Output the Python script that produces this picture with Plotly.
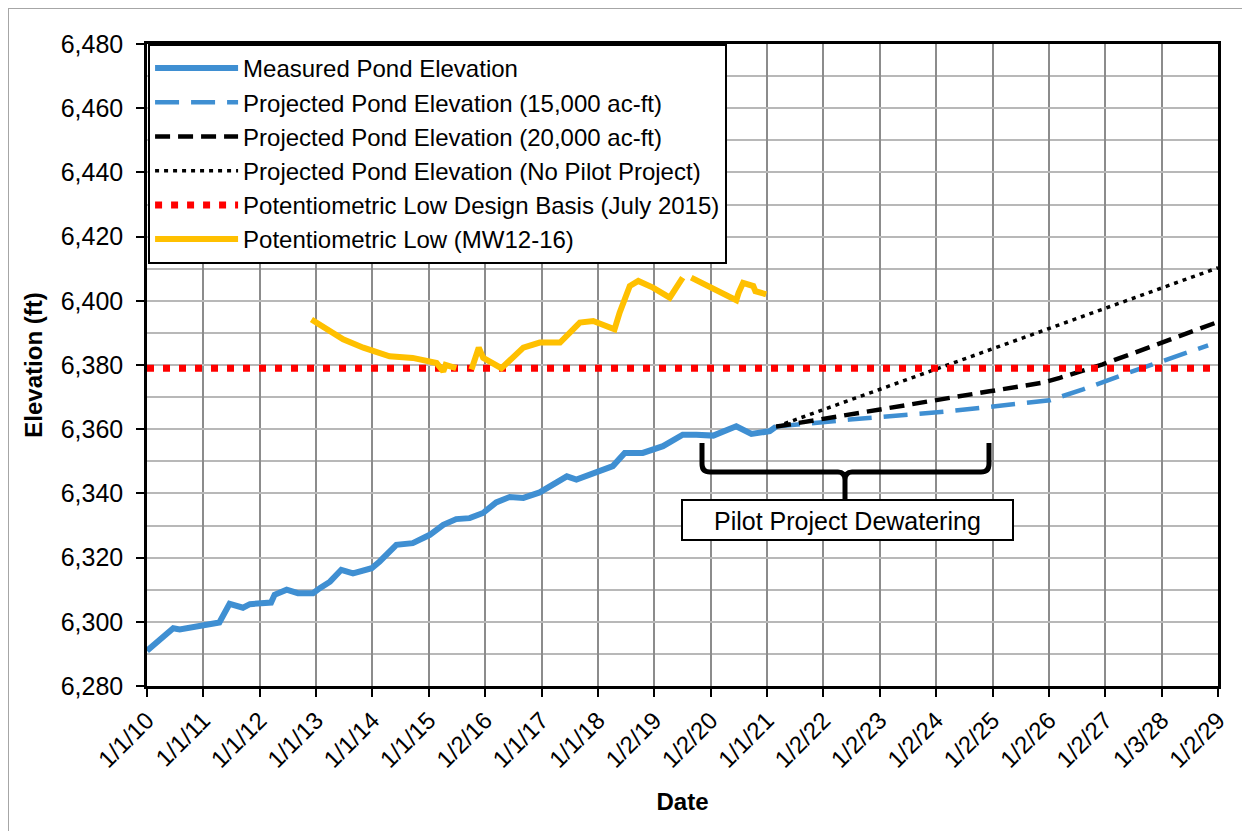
import plotly.graph_objects as go

# Measured pond elevation (ft)
measured_dates = [
    "2010-01-01", "2010-03-15", "2010-06-20", "2010-08-01", "2011-01-01",
    "2011-04-15", "2011-06-20", "2011-09-15", "2011-10-30", "2012-03-15",
    "2012-04-07", "2012-06-24", "2012-09-05", "2012-12-12", "2013-01-25",
    "2013-04-01", "2013-06-13", "2013-08-28", "2013-12-27", "2014-02-17",
    "2014-06-05", "2014-09-19", "2015-01-08", "2015-04-05", "2015-06-28",
    "2015-09-23", "2015-12-19", "2016-03-13", "2016-06-09", "2016-09-05",
    "2016-12-20", "2017-06-14", "2017-08-15", "2017-12-24", "2018-04-08",
    "2018-06-24", "2018-10-19", "2019-02-27", "2019-07-05", "2019-10-01",
    "2020-01-19", "2020-06-16", "2020-09-22", "2021-01-19", "2021-03-01",
]
measured_elev = [
    6291.0, 6294.0, 6298.0, 6297.6, 6299.0,
    6299.8, 6305.6, 6304.4, 6305.5, 6306.0,
    6308.4, 6310.0, 6308.9, 6308.9, 6310.5,
    6312.5, 6316.2, 6315.1, 6316.7, 6318.8,
    6324.0, 6324.5, 6327.1, 6330.2, 6332.0,
    6332.3, 6333.9, 6337.2, 6338.9, 6338.6,
    6340.3, 6345.3, 6344.3, 6346.4, 6348.5,
    6352.6, 6352.6, 6354.7, 6358.3, 6358.3,
    6358.0, 6360.9, 6358.5, 6359.4, 6360.8,
]

# Projections
proj15_dates = ["2021-03-01", "2022-06-20", "2024-03-27", "2026-01-08",
                "2026-08-11", "2027-07-02", "2028-10-30"]
proj15_elev = [6360.8, 6363.0, 6365.6, 6369.0, 6372.4, 6378.1, 6386.1]

proj20_dates = ["2021-03-01", "2022-12-08", "2024-12-13", "2025-11-25",
                "2026-03-14", "2026-12-17", "2029-01-01"]
proj20_elev = [6360.8, 6366.1, 6371.8, 6374.5, 6376.0, 6380.2, 6393.4]

nopilot_dates = ["2021-03-01", "2025-01-01", "2029-01-02"]
nopilot_elev = [6360.8, 6385.0, 6410.3]

# Design basis (July 2015)
design_dates = ["2010-01-01", "2029-01-02"]
design_elev = [6379.0, 6379.0]

# Potentiometric low MW12-16 (None = data gap)
mw_dates = [
    "2012-12-02", "2013-06-25", "2013-11-03", "2014-04-22", "2014-09-19",
    "2015-02-21", "2015-04-05", "2015-04-20", "2015-06-28", "2015-08-01",
    "2015-10-05", "2015-11-21", "2015-12-20", "2016-04-16", "2016-09-05",
    "2016-12-20", "2017-05-01", "2017-09-06", "2017-12-02", "2018-04-19",
    "2018-05-22", "2018-07-27", "2018-09-20", "2018-12-24", "2019-04-12",
    "2019-07-05", "2019-08-01", "2019-08-29", "2020-04-13", "2020-06-16",
    "2020-07-01", "2020-07-30", "2020-10-04", "2020-10-18", "2020-12-27",
]
mw_elev = [
    6394.2, 6388.0, 6385.4, 6382.7, 6382.2,
    6380.6, 6378.0, 6380.0, 6379.0, None,
    6378.6, 6385.4, 6382.2, 6379.0, 6385.4,
    6387.0, 6387.0, 6393.2, 6393.7, 6391.1,
    6396.3, 6404.6, 6406.2, 6404.1, 6401.0,
    6407.2, None, 6407.2, 6401.5, 6400.2,
    6402.5, 6405.6, 6404.6, 6403.0, 6402.0,
]

tick_dates = [
    "2010-01-01", "2011-01-01", "2012-01-01", "2013-01-01", "2014-01-01",
    "2015-01-01", "2016-01-02", "2017-01-01", "2018-01-01", "2019-01-02",
    "2020-01-02", "2021-01-01", "2022-01-02", "2023-01-02", "2024-01-02",
    "2025-01-02", "2026-01-02", "2027-01-02", "2028-01-03", "2029-01-02",
]
tick_labels = [
    "1/1/10", "1/1/11", "1/1/12", "1/1/13", "1/1/14", "1/1/15", "1/2/16",
    "1/1/17", "1/1/18", "1/2/19", "1/2/20", "1/1/21", "1/2/22", "1/2/23",
    "1/2/24", "1/2/25", "1/2/26", "1/2/27", "1/3/28", "1/2/29",
]
y_ticks = list(range(6280, 6481, 20))

FONT = "Liberation Sans, Arial, sans-serif"
# page body has an 8px margin, so the figure is shifted by that much
OFF = 8
W, H = 1250 - OFF, 831 - OFF
PL, PR, PT, PB = 147, 1218, 44, 686   # plot area in page pixels
L, T = PL - OFF, PT - OFF
R, B = W - (PR - OFF), H - (PB - OFF)


def px(x):
    return (x - PL) / (PR - PL)


def py(y):
    return (PB - y) / (PB - PT)


def path_px(cmds):
    # cmds: list of (letter, [x, y, x, y ...]) in page pixel coords
    out = []
    for c, pts in cmds:
        coords = []
        for i in range(0, len(pts), 2):
            coords.append(f"{px(pts[i]):.5f},{py(pts[i + 1]):.5f}")
        out.append(c + " " + " ".join(coords))
    return " ".join(out)


fig = go.Figure()
fig.add_trace(go.Scatter(
    x=measured_dates, y=measured_elev, mode="lines",
    name="Measured Pond Elevation",
    line=dict(color="#3F8FD2", width=6),
))
fig.add_trace(go.Scatter(
    x=proj15_dates, y=proj15_elev, mode="lines",
    name="Projected Pond Elevation (15,000 ac-ft)",
    line=dict(color="#3F8FD2", width=4.5, dash="24px,12px"),
))
fig.add_trace(go.Scatter(
    x=proj20_dates, y=proj20_elev, mode="lines",
    name="Projected Pond Elevation (20,000 ac-ft)",
    line=dict(color="black", width=4.5, dash="15px,8px"),
))
fig.add_trace(go.Scatter(
    x=nopilot_dates, y=nopilot_elev, mode="lines",
    name="Projected Pond Elevation (No Pilot Project)",
    line=dict(color="black", width=3.5, dash="4px,5px"),
))
fig.add_trace(go.Scatter(
    x=design_dates, y=design_elev, mode="lines",
    name="Potentiometric Low Design Basis (July 2015)",
    line=dict(color="#FF0000", width=7, dash="7px,9px"),
))
fig.add_trace(go.Scatter(
    x=mw_dates, y=mw_elev, mode="lines",
    name="Potentiometric Low (MW12-16)",
    line=dict(color="#FFC000", width=6),
    connectgaps=False,
))

# brace + label box
brace = path_px([
    ("M", [702, 443]), ("L", [702, 464]), ("Q", [702, 472, 710, 472]),
    ("L", [838, 472]), ("Q", [845, 472, 845, 480]), ("L", [845, 500]),
    ("M", [845, 480]), ("Q", [845, 472, 852, 472]), ("L", [981, 472]),
    ("Q", [989, 472, 989, 464]), ("L", [989, 443]),
])
fig.add_shape(type="path", path=brace, xref="paper", yref="paper",
              line=dict(color="black", width=5))
fig.add_shape(type="rect", xref="paper", yref="paper",
              x0=px(682), x1=px(1013), y0=py(500), y1=py(540),
              fillcolor="white", line=dict(color="black", width=2))
fig.add_annotation(
    text="Pilot Project Dewatering", xref="paper", yref="paper",
    x=px(847.5), y=py(521), xanchor="center", yanchor="middle",
    showarrow=False, font=dict(family=FONT, size=25, color="black"),
)
# outer chart border
fig.add_shape(type="rect", xref="paper", yref="paper",
              x0=px(8), x1=px(1270), y0=py(8), y1=py(850),
              line=dict(color="#A6A6A6", width=2), layer="below")

fig.update_layout(
    width=W, height=H,
    margin=dict(l=L, r=R, t=T, b=B, autoexpand=False),
    paper_bgcolor="white", plot_bgcolor="white",
    font=dict(family=FONT, size=24, color="black"),
    showlegend=True,
    legend=dict(
        x=0.001, y=1, xanchor="left", yanchor="top",
        bgcolor="white", bordercolor="black", borderwidth=2,
        font=dict(family=FONT, size=24, color="black"),
        itemwidth=83, tracegroupgap=0,
    ),
    xaxis=dict(
        type="date", range=["2010-01-01", "2029-01-02"],
        tickmode="array", tickvals=tick_dates, ticktext=tick_labels,
        tickangle=-45, tickfont=dict(size=24),
        showgrid=True, gridcolor="#8C8C8C", gridwidth=1.5,
        showline=True, linecolor="black", linewidth=2.5, mirror=True,
        ticks="outside", ticklen=8, tickwidth=2, tickcolor="black",
        title=dict(text="<b>Date</b>", font=dict(size=24), standoff=22),
        automargin=False, zeroline=False,
    ),
    yaxis=dict(
        range=[6280, 6480], tickmode="array", tickvals=y_ticks,
        tickformat=",d", tickfont=dict(size=25), ticklabelstandoff=8,
        showgrid=True, gridcolor="#B8B8B8", gridwidth=1.5,
        minor=dict(dtick=10, showgrid=True, gridcolor="#B8B8B8",
                   gridwidth=1.5, ticks=""),
        showline=True, linecolor="black", linewidth=2.5, mirror=True,
        ticks="outside", ticklen=8, tickwidth=2, tickcolor="black",
        title=dict(text="<b>Elevation (ft)</b>", font=dict(size=24),
                   standoff=12),
        automargin=False, zeroline=False,
    ),
)

fig.write_html("out.html")
